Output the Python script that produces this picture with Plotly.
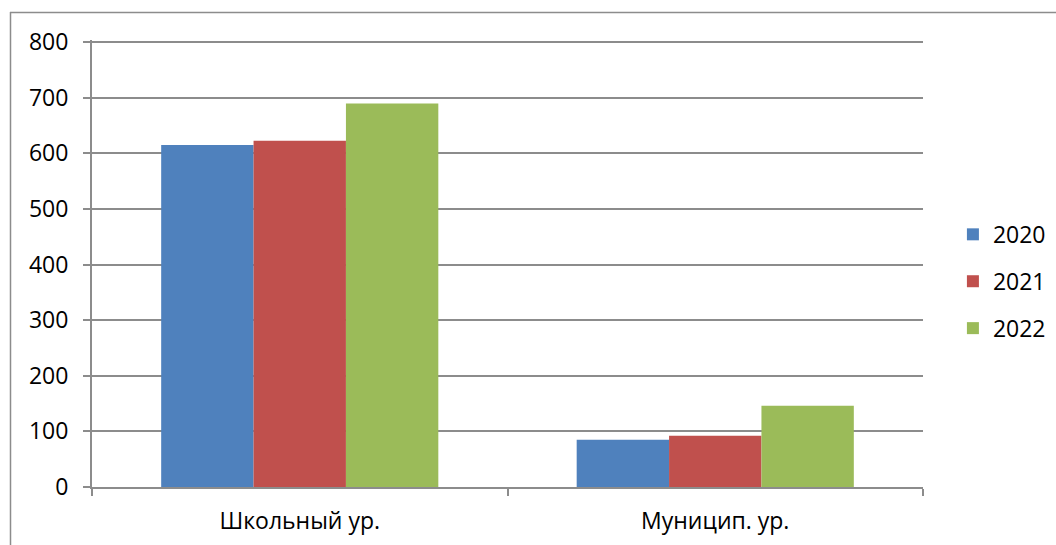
import plotly.graph_objects as go

categories = ["Школьный ур.", "Муницип. ур."]
years = ["2020", "2021", "2022"]
values_2020 = [615, 85]
values_2021 = [623, 92]
values_2022 = [690, 146]
colors = ["#4F81BD", "#C0504D", "#9BBB59"]

W, H = 1056, 545
L, R, T, B = 92, 923, 40, 487
YMAX = 804
GRID = "#8C8C8C"

fig = go.Figure()
for name, vals, col in zip(years, [values_2020, values_2021, values_2022], colors):
    fig.add_trace(go.Bar(x=categories, y=vals, name=name, legendgroup=name,
                         marker=dict(color=col, line=dict(width=0))))

pw, ph = R - L, B - T
def px_x(x):
    return (x - L) / pw
def px_y(y):
    return (B - y) / ph

fig.update_layout(
    width=W, height=H,
    margin=dict(l=L, r=W - R, t=T, b=H - B, pad=0, autoexpand=False),
    paper_bgcolor="white", plot_bgcolor="white",
    barmode="group", bargap=0.333, bargroupgap=0,
    font=dict(family="'Open Sans', Lato, sans-serif", size=23, color="#000000"),
    legend=dict(x=1.036, y=0.46, xanchor="left", yanchor="middle",
                traceorder="grouped", tracegroupgap=14,
                font=dict(size=23), bgcolor="rgba(0,0,0,0)"),
    shapes=[
        dict(type="line", xref="paper", yref="paper", x0=px_x(10.5), x1=px_x(10.5),
             y0=px_y(12), y1=px_y(560), line=dict(color=GRID, width=1.5)),
        dict(type="line", xref="paper", yref="paper", x0=px_x(10), x1=px_x(1070),
             y0=px_y(12.5), y1=px_y(12.5), line=dict(color=GRID, width=1.5)),
    ],
)
fig.update_yaxes(range=[0, YMAX], tickvals=list(range(0, 801, 100)),
                 showgrid=True, gridcolor=GRID, gridwidth=2,
                 showline=True, linecolor=GRID, linewidth=2,
                 ticks="outside", ticklen=7, tickcolor=GRID, tickwidth=2,
                 ticklabelstandoff=10, zeroline=False, fixedrange=True)
fig.update_xaxes(showline=True, linecolor=GRID, linewidth=2,
                 ticks="outside", tickson="boundaries", ticklen=7, tickcolor=GRID, tickwidth=2,
                 ticklabelstandoff=12, showgrid=False, fixedrange=True)

fig.write_html("out.html", config={"displayModeBar": False},
               post_script="document.body.style.margin='0';document.body.style.padding='0';")
